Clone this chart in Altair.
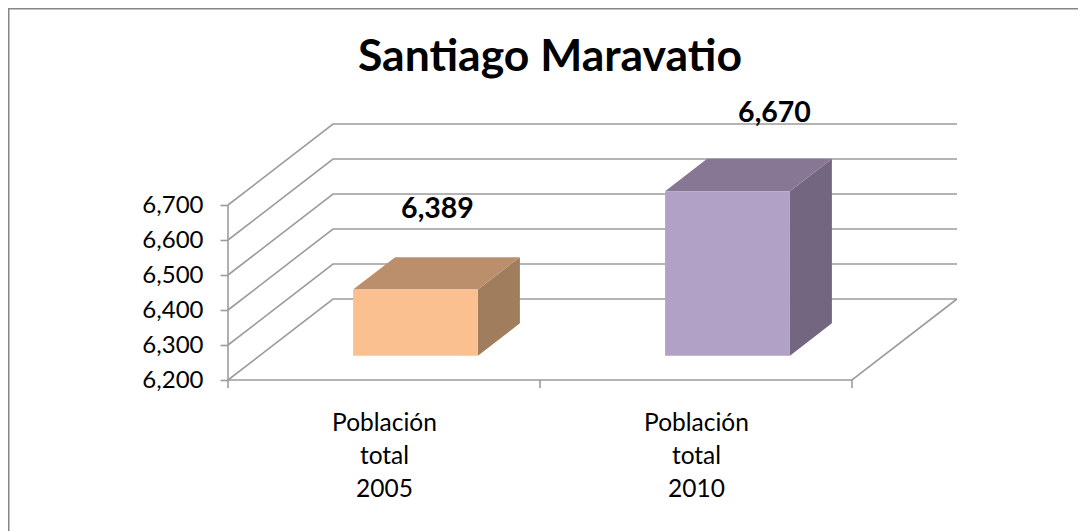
import altair as alt
import pandas as pd

title_text = "Santiago Maravatio"
categories = ["Población total 2005", "Población total 2010"]
values = [6389, 6670]
value_labels = ["6,389", "6,670"]
y_ticks = [6200, 6300, 6400, 6500, 6600, 6700]
front_colors = ["#FBC08F", "#B1A1C6"]
top_colors = ["#BC8F6C", "#877794"]
side_colors = ["#A07D5C", "#736680"]

# Geometry of the oblique projection, in pixels
W, H = 1070, 523
CAT_PX = 312.0
X0_PX = 220.0
Y0_PX = 372.0
PX_PER_UNIT = 0.35
DEPTH_X = 105.0
DEPTH_Y = 81.0
BASE = 6200
TOP = 6700
BAR_FRONT, BAR_BACK = 0.3, 0.7
BAR_W = 0.4
GREY = "#9C9C9C"

x_scale = alt.Scale(domain=[-X0_PX / CAT_PX, (W - X0_PX) / CAT_PX], range=[0, W], nice=False, zero=False)
y_scale = alt.Scale(domain=[BASE - (H - Y0_PX) / PX_PER_UNIT, BASE + Y0_PX / PX_PER_UNIT], range=[H, 0], nice=False, zero=False)


def px(cat, depth):
    return cat + depth * DEPTH_X / CAT_PX


def py(val, depth):
    return val + depth * DEPTH_Y / PX_PER_UNIT


cat_lines = [c.rsplit(" ", 2) for c in categories]
label_expr = "datum.value < 1 ? {} : {}".format(
    "['" + "','".join(cat_lines[0]) + "']", "['" + "','".join(cat_lines[1]) + "']"
)
x_axis = alt.Axis(
    values=[0.5, 1.5], title=None, offset=-(H - Y0_PX), grid=False, domain=False, ticks=False,
    labelExpr=label_expr, labelFont="Lato", labelFontSize=24.5, labelColor="#000000",
    labelLineHeight=33, labelPadding=31, labelBaseline="top", labelAlign="center",
    labelOverlap=False, labelFlush=False)
y_axis = alt.Axis(
    values=y_ticks, title=None, format=",.0f", offset=-X0_PX, grid=False, domain=False,
    tickColor=GREY, tickSize=8, tickWidth=1.6, labelFont="Lato", labelFontSize=24,
    labelColor="#000000", labelPadding=17, labelOverlap=False, labelFlush=False, labelBaseline="middle")

X = lambda: alt.X("x:Q", scale=x_scale, axis=x_axis)
Y = lambda: alt.Y("y:Q", scale=y_scale, axis=y_axis)

lines = []
for t in y_ticks:
    lines += [
        dict(g=t, o=0, x=px(0, 0), y=py(t, 0)),
        dict(g=t, o=1, x=px(0, 1), y=py(t, 1)),
        dict(g=t, o=2, x=px(2, 1), y=py(t, 1)),
    ]
# floor outline: front edge and right edge; then the left wall's front edge
lines += [
    dict(g=1, o=0, x=px(0, 0), y=py(BASE, 0)),
    dict(g=1, o=1, x=px(2, 0), y=py(BASE, 0)),
    dict(g=1, o=2, x=px(2, 1), y=py(BASE, 1)),
    dict(g=2, o=0, x=px(0, 0), y=py(BASE, 0)),
    dict(g=2, o=1, x=px(0, 0), y=py(TOP, 0)),
]
grid = alt.Chart(pd.DataFrame(lines)).mark_line(color=GREY, strokeWidth=1.6).encode(
    X(), Y(), detail="g:N", order="o:Q"
)

x_ticks = pd.DataFrame([dict(x=px(c, 0), y=BASE, y2=BASE - 8 / PX_PER_UNIT) for c in (0, 1, 2)])
xtick = alt.Chart(x_ticks).mark_rule(color=GREY, strokeWidth=1.6).encode(X(), Y(), y2="y2:Q")

front_rows, side_rows, top_rows = [], [], []
for i, v in enumerate(values):
    x0 = i + 0.5 - BAR_W / 2
    x1 = i + 0.5 + BAR_W / 2
    front_rows.append(dict(i=i, x=px(x0, BAR_FRONT), x2=px(x1, BAR_FRONT), y=py(BASE, BAR_FRONT), y2=py(v, BAR_FRONT), c=front_colors[i]))
    for d in (BAR_FRONT, BAR_BACK):
        side_rows.append(dict(i=i, x=px(x1, d), y=py(BASE, d), y2=py(v, d), c=side_colors[i]))
        top_rows.append(dict(i=i, y=py(v, d), x=px(x0, d), x2=px(x1, d), c=top_colors[i]))

front = alt.Chart(pd.DataFrame(front_rows)).mark_rect().encode(
    X(), x2="x2:Q", y=Y(), y2="y2:Q", color=alt.Color("c:N", scale=None)
)
side = alt.Chart(pd.DataFrame(side_rows)).mark_area(orient="vertical", interpolate="linear").encode(
    X(), Y(), y2="y2:Q", color=alt.Color("c:N", scale=None), detail="i:N"
)
top = alt.Chart(pd.DataFrame(top_rows)).mark_area(orient="horizontal", interpolate="linear").encode(
    X(), Y(), x2="x2:Q", color=alt.Color("c:N", scale=None), detail="i:N"
)

labels = []
for i, (v, lab, shift, lift) in enumerate(zip(values, value_labels, (1, 26), (-48, -46))):
    df = pd.DataFrame([dict(x=px(i + 0.5, 0.5), y=py(v, BAR_BACK), t=lab)])
    labels.append(
        alt.Chart(df).mark_text(font="Lato", fontWeight="bold", fontSize=28.5, color="#000000", baseline="middle", dx=shift, dy=lift).encode(
            X(), Y(), text="t:N"
        )
    )

one = pd.DataFrame({"a": [0]})
frame_left = alt.Chart(one).mark_rule(color="#868686", strokeWidth=3).encode(x=alt.value(0), y=alt.value(0), y2=alt.value(H))
frame_top = alt.Chart(one).mark_rule(color="#868686", strokeWidth=3).encode(y=alt.value(0), x=alt.value(0), x2=alt.value(W))

chart = alt.layer(grid, xtick, side, top, front, *labels, frame_left, frame_top).properties(
    width=W, height=H,
    padding=0,
    background="#FFFFFF",
    autosize=alt.AutoSizeParams(type="none"),
    title=alt.TitleParams(title_text, font="Lato", fontWeight="bold", fontSize=44.5, color="#000000",
                          anchor="middle", orient="top", offset=-74, dx=7),
).configure_view(stroke=None)

chart.save("out.html", embed_options={"renderer": "svg", "actions": False})
